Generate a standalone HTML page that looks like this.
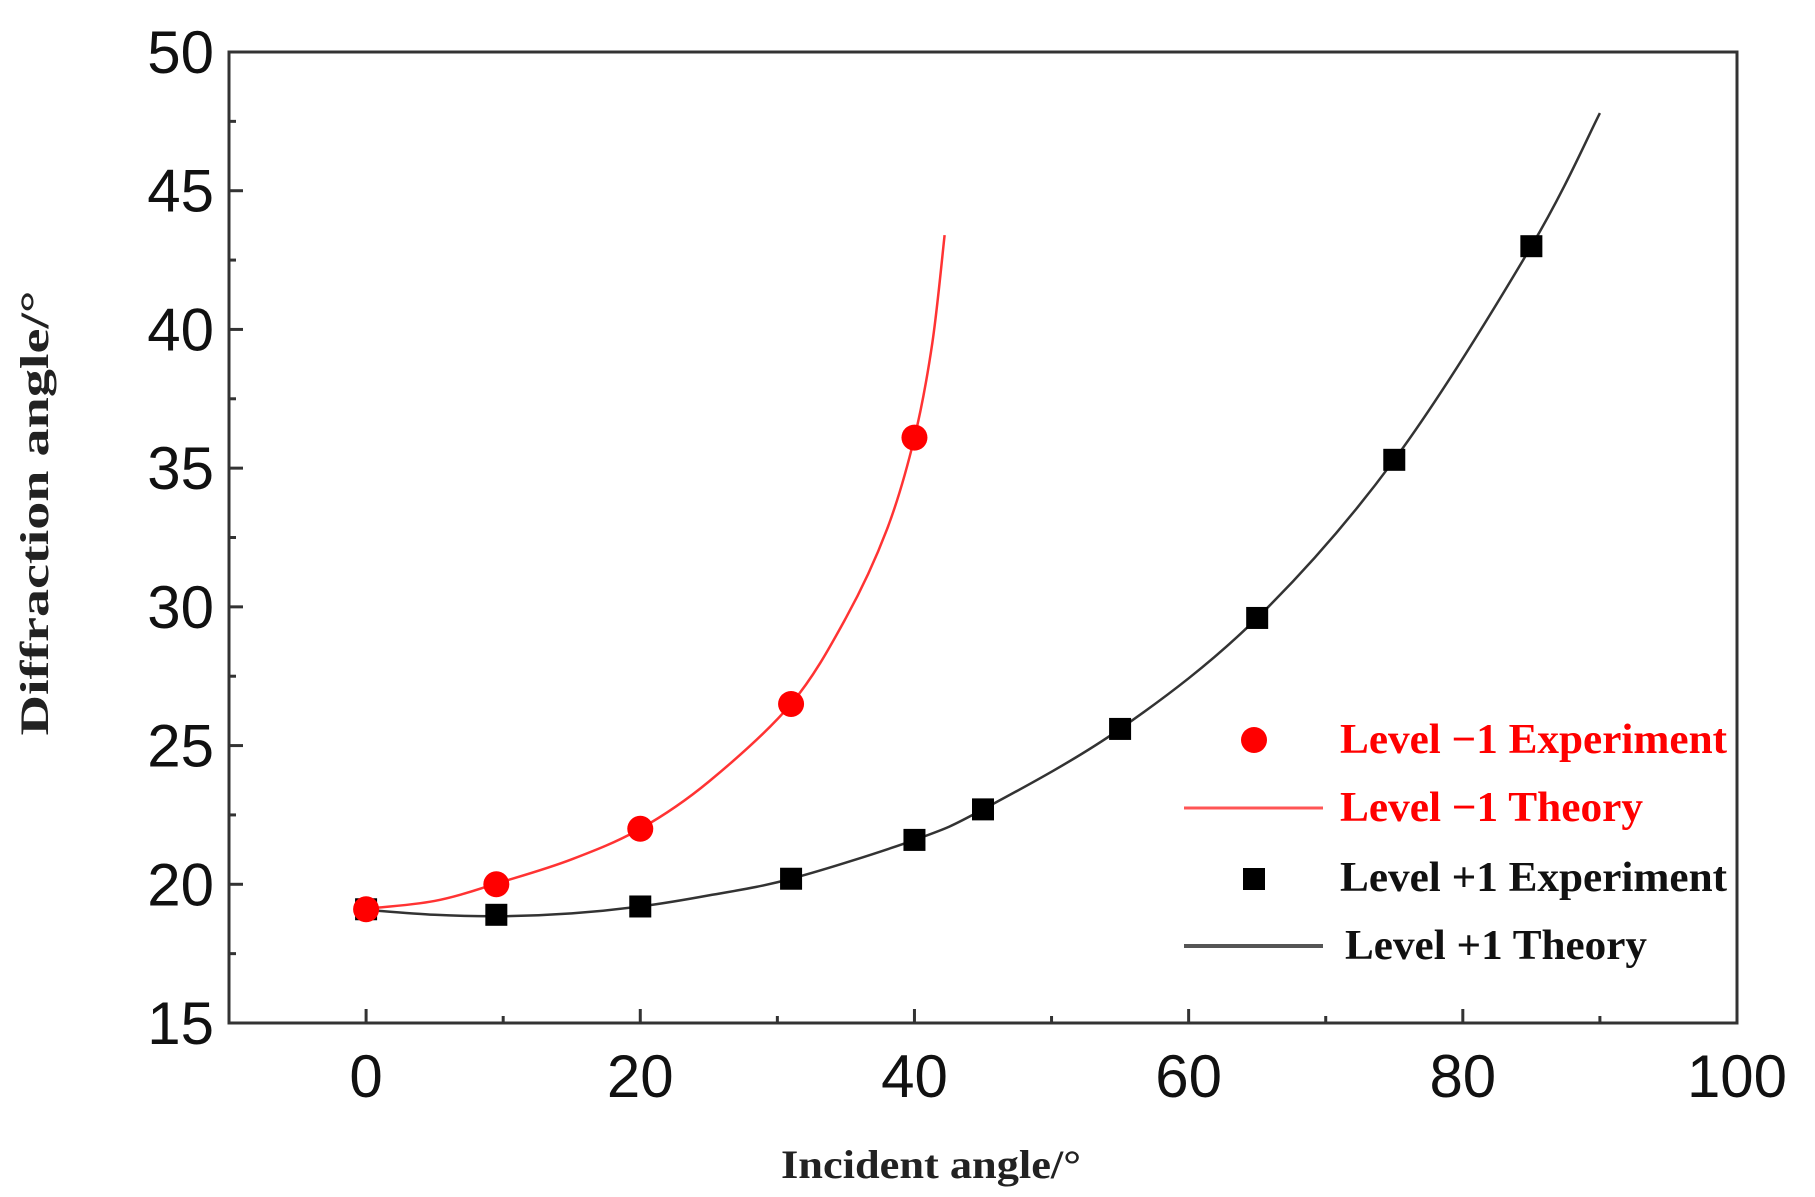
<!DOCTYPE html>
<html><head><meta charset="utf-8"><style>
html,body{margin:0;padding:0;background:#fff;}
svg{display:block;}
.tk{font-family:"Liberation Sans",Arial,sans-serif;font-size:60px;fill:#111;}
.ti{font-family:"Liberation Serif",serif;font-size:40px;font-weight:bold;fill:#222;}
.lg{font-family:"Liberation Serif",serif;font-size:42px;font-weight:bold;}
</style></head><body>
<svg id="s" width="1815" height="1197" viewBox="0 0 1815 1197" xmlns="http://www.w3.org/2000/svg">
<text class="ti" x="931" y="1178" text-anchor="middle" textLength="300" lengthAdjust="spacingAndGlyphs">Incident angle/°</text>
<text class="ti" transform="translate(48,513) rotate(-90)" text-anchor="middle" textLength="445" lengthAdjust="spacingAndGlyphs">Diffraction angle/°</text>
<g id="g"></g>
<circle cx="1254" cy="740" r="13" fill="#f00"/>
<text class="lg" x="1340" y="753" fill="#f00" textLength="387" lengthAdjust="spacingAndGlyphs">Level −1 Experiment</text>
<line x1="1184" y1="808" x2="1323" y2="808" stroke="#f55" stroke-width="3"/>
<text class="lg" x="1340" y="821" fill="#f00" textLength="303" lengthAdjust="spacingAndGlyphs">Level −1 Theory</text>
<rect x="1243" y="868" width="22" height="22" fill="#000"/>
<text class="lg" x="1340" y="891" fill="#111" textLength="387" lengthAdjust="spacingAndGlyphs">Level +1 Experiment</text>
<line x1="1184" y1="946" x2="1323" y2="946" stroke="#555" stroke-width="4"/>
<text class="lg" x="1345" y="959" fill="#111" textLength="302" lengthAdjust="spacingAndGlyphs">Level +1 Theory</text>
</svg>
<script>
var L=229,R=1737,T=52,B=1023;
function X(v){return L+(v+10)*(R-L)/110}
function Y(v){return B-(v-15)*(B-T)/35}
var g=document.getElementById('g'),h='';
h+='<rect x="'+L+'" y="'+T+'" width="'+(R-L)+'" height="'+(B-T)+'" fill="none" stroke="#333" stroke-width="3"/>';
for(var v=0;v<=100;v+=10){var x=X(v),m=v%20==0;h+='<line x1="'+x+'" y1="'+B+'" x2="'+x+'" y2="'+(B-(m?14:7))+'" stroke="#333" stroke-width="3"/>';if(m)h+='<text class="tk" x="'+x+'" y="'+(B+74)+'" text-anchor="middle">'+v+'</text>';}
for(var v=15;v<=50;v+=2.5){var y=Y(v),m=v%5==0;h+='<line x1="'+L+'" y1="'+y+'" x2="'+(L+(m?14:7))+'" y2="'+y+'" stroke="#333" stroke-width="3"/>';if(m)h+='<text class="tk" x="214" y="'+(y+21)+'" text-anchor="end">'+v+'</text>';}
function path(p){var d='M'+X(p[0][0])+','+Y(p[0][1]);for(var i=0;i<p.length-1;i++){var p0=p[i-1]||p[i],p1=p[i],p2=p[i+1],p3=p[i+2]||p2;
var c1=[p1[0]+(p2[0]-p0[0])/6,p1[1]+(p2[1]-p0[1])/6],c2=[p2[0]-(p3[0]-p1[0])/6,p2[1]-(p3[1]-p1[1])/6];
d+=' C'+X(c1[0])+','+Y(c1[1])+' '+X(c2[0])+','+Y(c2[1])+' '+X(p2[0])+','+Y(p2[1]);}return d;}
var rc=[[-0.5,19.1],[5,19.4],[10,20.1],[15,20.9],[20,22.0],[25,23.7],[31,26.5],[35,29.6],[38,32.8],[40,36.1],[41.3,39.5],[42.2,43.4]];
var bc=[[-0.5,19.1],[5,18.9],[10,18.85],[15,18.95],[20,19.2],[25,19.6],[31,20.2],[40,21.6],[45,22.7],[55,25.6],[65,29.6],[75,35.3],[85,43],[90,47.8]];
h+='<path d="'+path(bc)+'" fill="none" stroke="#333" stroke-width="2.5"/>';
h+='<path d="'+path(rc)+'" fill="none" stroke="#f33" stroke-width="2.5"/>';
[[0,19.1],[9.5,18.9],[20,19.2],[31,20.2],[40,21.6],[45,22.7],[55,25.6],[65,29.6],[75,35.3],[85,43]].forEach(function(p){h+='<rect x="'+(X(p[0])-11)+'" y="'+(Y(p[1])-11)+'" width="22" height="22" fill="#000"/>';});
[[0,19.1],[9.5,20],[20,22],[31,26.5],[40,36.1]].forEach(function(p){h+='<circle cx="'+X(p[0])+'" cy="'+Y(p[1])+'" r="13" fill="#f00"/>';});
g.innerHTML=h;
</script>
</body></html>
